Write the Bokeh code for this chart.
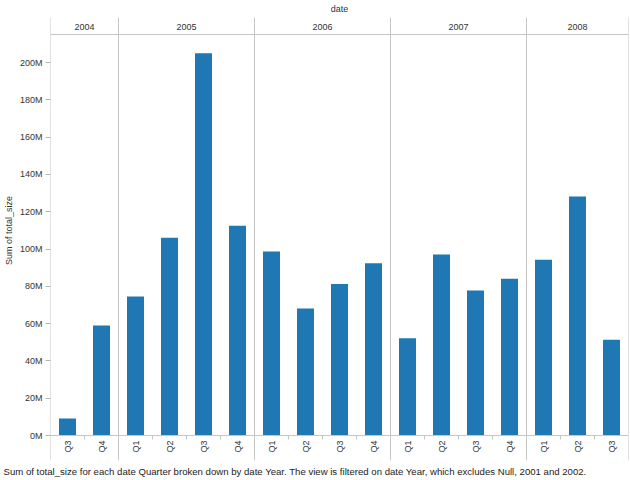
import math
from bokeh.plotting import figure
from bokeh.models import Range1d, FixedTicker, PrintfTickFormatter, ColumnDataSource, Title
from bokeh.embed import file_html
from bokeh.resources import INLINE
from bokeh.core.properties import value

# ---------------- data ----------------
years = ["2004", "2005", "2006", "2007", "2008"]
quarters = [
    ["Q3", "Q4"],
    ["Q1", "Q2", "Q3", "Q4"],
    ["Q1", "Q2", "Q3", "Q4"],
    ["Q1", "Q2", "Q3", "Q4"],
    ["Q1", "Q2", "Q3"],
]
# Sum of total_size, in millions
total_size_m = [
    [9.1, 59.0],
    [74.5, 106.0, 205.0, 112.4],
    [98.7, 68.1, 81.3, 92.4],
    [52.2, 97.1, 77.7, 84.0],
    [94.2, 128.2, 51.3],
]
y_ticks = [0, 20, 40, 60, 80, 100, 120, 140, 160, 180, 200]
y_axis_title = "Sum of total_size"
column_header = "date"
caption = ("Sum of total_size for each date Quarter broken down by date Year. "
           "The view is filtered on date Year, which excludes Null, 2001 and 2002.")

# ---------------- layout (pixels) ----------------
W, H = 630, 480
LEFT, RIGHT_PAD = 50, 2
FRAME_H = 460            # frame from y=0 to y=460 px
ZERO_PX = 435            # baseline position from top
PX_PER_M = 1.865
HEADER_LINE_PX = 34
SEP_TOP_PX = 17
YEAR_TEXT_PX = 26
DATE_TEXT_PX = 8
QLABEL_TOP_PX = 440
TICK_LEN_PX = 4

def px_to_val(px):
    return (ZERO_PX - px) / PX_PER_M

font = "Liberation Sans"
txt_color = "#333333"
line_color = "#c6c6c6"
bar_color = "#1f77b4"

# flatten
xs, tops, qlabels = [], [], []
panel_edges = [0]
panel_centers = []
tick_x = []
i = 0
for yr, qs, vals in zip(years, quarters, total_size_m):
    start = i
    for k, (q, v) in enumerate(zip(qs, vals)):
        xs.append(i + 0.5)
        tops.append(v)
        qlabels.append(q)
        if k > 0:
            tick_x.append(i)
        i += 1
    panel_edges.append(i)
    panel_centers.append((start + i) / 2)
n_slots = i

y_lo = px_to_val(FRAME_H)
y_hi = px_to_val(0)

p = figure(width=W, height=H, output_backend="svg", toolbar_location=None,
           x_range=Range1d(0, n_slots), y_range=Range1d(y_lo, y_hi),
           x_axis_type=None, min_border_left=LEFT, min_border_right=RIGHT_PAD,
           min_border_top=0, min_border_bottom=H - FRAME_H)
p.outline_line_color = None
p.grid.visible = False
p.background_fill_color = "white"
p.border_fill_color = "white"

ax = p.yaxis[0]
ax.ticker = FixedTicker(ticks=y_ticks)
ax.formatter = PrintfTickFormatter(format="%dM")
ax.axis_line_color = None
ax.major_tick_in = 0
ax.major_tick_out = 5
ax.major_tick_line_color = "#b4b4b4"
ax.minor_tick_line_color = None
ax.major_label_standoff = 3
ax.major_label_text_font = font
ax.major_label_text_font_size = "9px"
ax.major_label_text_color = txt_color
ax.axis_label = y_axis_title
ax.axis_label_text_font = font
ax.axis_label_text_font_size = "9px"
ax.axis_label_text_font_style = "normal"
ax.axis_label_text_color = txt_color
ax.axis_label_standoff = 3

# bars
src = ColumnDataSource(dict(x=xs, top=tops, q=qlabels))
p.vbar(x="x", top="top", bottom=0, width=0.5, source=src,
       fill_color=bar_color, line_color=None)

# panel separators (incl. left and right borders)
sep_top = px_to_val(SEP_TOP_PX)
p.segment(x0=panel_edges, x1=panel_edges, y0=[sep_top] * len(panel_edges),
          y1=[y_lo] * len(panel_edges), line_color=line_color, line_width=1)
# header bottom line & baseline
p.segment(x0=[0, 0], x1=[n_slots, n_slots],
          y0=[px_to_val(HEADER_LINE_PX), 0], y1=[px_to_val(HEADER_LINE_PX), 0],
          line_color=line_color, line_width=1)
# quarter ticks between bars
tick_len = TICK_LEN_PX / PX_PER_M
p.segment(x0=tick_x, x1=tick_x, y0=[0] * len(tick_x), y1=[-tick_len] * len(tick_x),
          line_color=line_color, line_width=1)

# year headers
p.text(x=panel_centers, y=[px_to_val(YEAR_TEXT_PX)] * len(panel_centers), text=years,
       text_font=value(font), text_font_size="9px", text_color=txt_color,
       text_align="center", text_baseline="middle")
# column header title
p.text(x=[n_slots / 2], y=[px_to_val(DATE_TEXT_PX)], text=[column_header],
       text_font=value(font), text_font_size="9px", text_color=txt_color,
       text_align="center", text_baseline="middle")
# quarter labels (rotated)
p.text(x="x", y=px_to_val(QLABEL_TOP_PX), text="q", source=src, angle=math.pi / 2,
       text_font=value(font), text_font_size="9px", text_color=txt_color,
       text_align="right", text_baseline="middle")

# caption
cap = Title(text=caption, align="left", offset=-47, standoff=6,
            text_font=font, text_font_size="9.6px", text_font_style="normal",
            text_color="#222222")
p.add_layout(cap, "below")

open("out.html", "w").write(file_html(p, INLINE))
